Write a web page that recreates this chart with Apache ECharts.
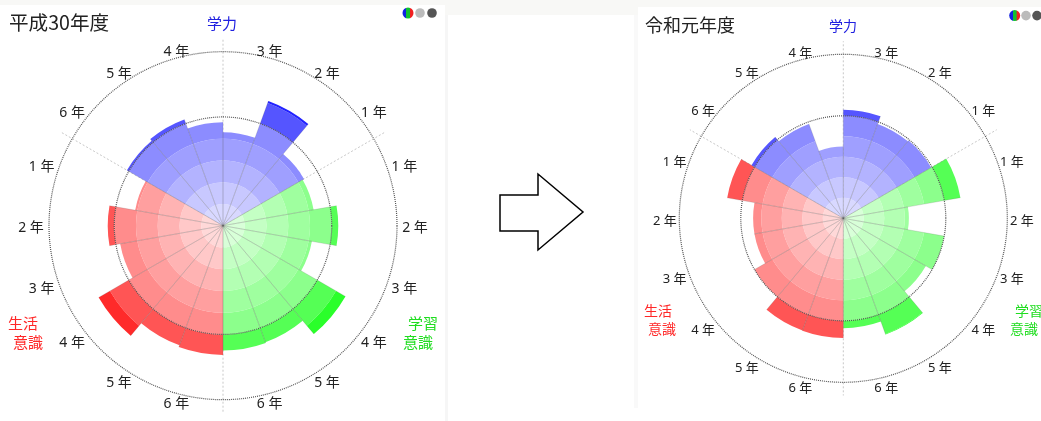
<!DOCTYPE html>
<html><head><meta charset="utf-8">
<style>html,body{margin:0;padding:0;background:#fff}#c{width:1041px;height:421px}</style>
<script src="https://cdn.jsdelivr.net/npm/echarts@6/dist/echarts.min.js"></script>
</head><body><div id="c"></div>
<script>
// values by grade 1..6
const h30Gakuryoku = [43, 61, 43, 47.6, 52, 51];
const h30Gakushu   = [42.3, 53, 41.5, 65, 57, 57.4];
const h30Seikatsu  = [41, 53, 48, 66, 58.5, 59.4];
const r1Gakuryoku  = [49.5, 49, 53, 35, 49, 51.7];
const r1Gakushu    = [58, 32, 50, 46.5, 60.3, 53.6];
const r1Seikatsu   = [57.5, 44, 44, 50, 58.2, 58.4];
const gradeLabels  = ['1 年','2 年','3 年','4 年','5 年','6 年'];
const guideCircles = [50, 80];
const ringStep = 10, ringCount = 7, radiusMax = 80;
const blues  = ['#d8d8ff','#c8c8ff','#b3b3ff','#9f9fff','#8c8cff','#5555ff','#2222ff'];
const greens = ['#d8ffd8','#c4ffc4','#b3ffb3','#9fff9f','#8cff8c','#55ff55','#2aff2a'];
const reds   = ['#ffd8d8','#ffc8c8','#ffb3b3','#ff9f9f','#ff8c8c','#ff5555','#ff2a2a'];
const FONT = '"Noto Sans","Noto Sans CJK JP",sans-serif';
const CJK = '"Noto Sans CJK JP","DejaVu Sans",sans-serif';

// clockwise from the top: blue 3,2,1 / green 1..6 / red 6..1 / blue 6,5,4
function arrange(b, g, r) {
  const out = [];
  [2,1,0].forEach(i => out.push({v:b[i], grade:gradeLabels[i], pal:blues}));
  [0,1,2,3,4,5].forEach(i => out.push({v:g[i], grade:gradeLabels[i], pal:greens}));
  [5,4,3,2,1,0].forEach(i => out.push({v:r[i], grade:gradeLabels[i], pal:reds}));
  [5,4,3].forEach(i => out.push({v:b[i], grade:gradeLabels[i], pal:blues}));
  return out;
}
const panels = [
  {items:arrange(h30Gakuryoku,h30Gakushu,h30Seikatsu), center:[223,225.7], radius:174, font:14, ox:16, rx:176, ry:172},
  {items:arrange(r1Gakuryoku,r1Gakushu,r1Seikatsu), center:[843.3,218.3], radius:164, font:13, ox:14.5, rx:164, ry:164}
];
const series = [];
panels.forEach((p, pi) => {
  // stacked ring segments
  for (let k = 0; k < ringCount; k++) {
    series.push({
      type:'bar', coordinateSystem:'polar', polarIndex:pi, stack:'p'+pi, barCategoryGap:0, barWidth:'100%',
      silent:true, z:2,
      data:p.items.map(it => ({
        value:Math.max(0, Math.min(it.v, (k+1)*ringStep) - k*ringStep),
        itemStyle:{color:it.pal[k]}
      }))
    });
  }
  // dotted group separators
  series.push({
    type:'custom', coordinateSystem:'polar', polarIndex:pi, z:1, silent:true, clip:false,
    encode:{radius:0, angle:1},
    data:[[0,0],[0,3],[0,9],[0,15]],
    renderItem(params, api){
      const cs = params.coordSys, i = api.value(1), t = i*20*Math.PI/180, r = cs.r*1.08;
      return {type:'line', shape:{x1:cs.cx, y1:cs.cy, x2:cs.cx+r*Math.sin(t), y2:cs.cy-r*Math.cos(t)},
        style:{stroke:'#c8c8c8', lineWidth:1, lineDash:[2,2], fill:null}};
    }
  });
  // spokes along sector sides
  series.push({
    type:'custom', coordinateSystem:'polar', polarIndex:pi, z:3, silent:true, clip:false,
    encode:{radius:0, angle:1},
    data:p.items.map((it,i)=>[it.v,i]),
    renderItem(params, api){
      const cs = params.coordSys, v = api.value(0), i = api.value(1);
      const q = api.coord([v,i]), r = Math.hypot(q[0]-cs.cx, q[1]-cs.cy);
      const a = i*20*Math.PI/180, b = (i+1)*20*Math.PI/180;
      return {type:'polyline', shape:{points:[
        [cs.cx+r*Math.sin(a), cs.cy-r*Math.cos(a)], [cs.cx,cs.cy], [cs.cx+r*Math.sin(b), cs.cy-r*Math.cos(b)]
      ]}, style:{stroke:'rgba(90,90,90,0.22)', lineWidth:0.8, fill:null}};
    }
  });
  // dotted guide circles
  series.push({
    type:'custom', coordinateSystem:'polar', polarIndex:pi, z:4, silent:true, clip:false,
    encode:{radius:0, angle:1},
    data:guideCircles.map(v=>[v,0]),
    renderItem(params, api){
      const cs = params.coordSys, q = api.coord([api.value(0),0]);
      return {type:'circle', shape:{cx:cs.cx, cy:cs.cy, r:Math.hypot(q[0]-cs.cx,q[1]-cs.cy)},
        style:{stroke:'#555555', lineWidth:1.2, lineDash:[1,1], fill:null}};
    }
  });
  // grade labels
  series.push({
    type:'custom', coordinateSystem:'polar', polarIndex:pi, z:5, silent:true, clip:false,
    encode:{radius:0, angle:1},
    data:p.items.map((it,i)=>[radiusMax,i]),
    renderItem(params, api){
      const cs = params.coordSys, i = api.value(1), t = (i+0.5)*20*Math.PI/180;
      const s = Math.sin(t), c = Math.cos(t);
      return {type:'text', x:cs.cx+p.rx*s+(s>0?p.ox:-p.ox), y:cs.cy-(p.ry+6.5)*c+2.5,
        style:{text:p.items[i].grade, align:'center', verticalAlign:'middle', fontSize:p.font, fontFamily:FONT, fill:'#222222'}};
    }
  });
});

const bg = '#f8f8f6';
const rect = (x,y,w,h,c)=>({type:'rect', shape:{x,y,width:w,height:h}, style:{fill:c}, silent:true, z:-10});
const txt = (x,y,t,size,fill,align)=>({type:'text', x, y, z:10, silent:true,
  style:{text:t, fontSize:size, fontFamily:CJK, fill, align:align||'left', verticalAlign:'middle'}});
const stripes = {type:'linear',x:0,y:0,x2:1,y2:0,colorStops:[
  {offset:0,color:'#1020e0'},{offset:.33,color:'#1020e0'},{offset:.34,color:'#10c030'},{offset:.66,color:'#10c030'},{offset:.67,color:'#f02020'},{offset:1,color:'#f02020'}]};
const dot = (x,y,r,fill)=>({type:'circle', shape:{cx:x,cy:y,r}, style:{fill}, silent:true, z:10});

const option = {
  animation:false,
  backgroundColor:'#ffffff',
  polar:panels.map(p=>({center:p.center, radius:p.radius})),
  angleAxis:panels.map((p,i)=>({polarIndex:i, type:'category', data:p.items.map((_,j)=>j), startAngle:90, clockwise:true, boundaryGap:true,
    axisLine:{show:false}, axisTick:{show:false}, axisLabel:{show:false}, splitLine:{show:false}})),
  radiusAxis:panels.map((p,i)=>({polarIndex:i, min:0, max:radiusMax, interval:ringStep,
    axisLine:{show:false}, axisTick:{show:false}, axisLabel:{show:false}, splitLine:{show:false}})),
  series,
  graphic:[
    rect(0,0,1041,5,bg), rect(445,0,193,15,bg), rect(445,15,3,406,'#f6f6f6'), rect(634,15,4,393,'#f9f9f9'), rect(638,5,403,2,bg),
    txt(9,23,'平成30年度',19.6,'#222222'),
    txt(222,23,'学力',15,'#2020e0','center'),
    txt(8,323,'生活',15,'#ff2828'), txt(13,342,'意識',15,'#ff2828'),
    txt(408,323,'学習',15,'#20dd20'), txt(403,342,'意識',15,'#20dd20'),
    dot(408,13,5.5,stripes), dot(420,13,4.8,'#bbbbbb'), dot(432,13,4.8,'#555555'),
    txt(645,25,'令和元年度',18,'#222222'),
    txt(843,26,'学力',14,'#2020e0','center'),
    txt(644,311,'生活',14,'#ff2828'), txt(648,329,'意識',14,'#ff2828'),
    txt(1015,311,'学習',14,'#20dd20'), txt(1010,329,'意識',14,'#20dd20'),
    dot(1014.7,15.6,5.5,stripes), dot(1026,15.6,4.8,'#bbbbbb'), dot(1037,15.6,4.8,'#555555'),
    {type:'polygon', z:10, silent:true, shape:{points:[[500,195],[538,195],[538,174],[583,212],[538,250],[538,231],[500,231]]},
     style:{fill:'#ffffff', stroke:'#000000', lineWidth:1.5}}
  ]
};
echarts.init(document.getElementById('c'), null, {renderer:'canvas'}).setOption(option);
</script></body></html>
